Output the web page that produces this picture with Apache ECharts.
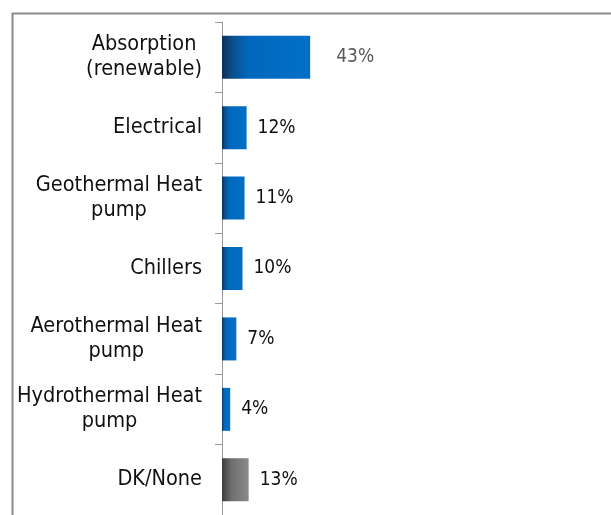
<!DOCTYPE html>
<html>
<head>
<meta charset="utf-8">
<script src="https://cdn.jsdelivr.net/npm/echarts@6/dist/echarts.min.js"></script>
<style>
  html, body { margin: 0; padding: 0; background: #fff; }
  #chart { width: 611px; height: 515px; }
</style>
</head>
<body>
<div id="chart"></div>
<script>
// categories top to bottom
const categories = [
  "Absorption\n(renewable)",
  "Electrical",
  "Geothermal Heat\npump",
  "Chillers",
  "Aerothermal Heat\npump",
  "Hydrothermal Heat\npump",
  "DK/None"
];
const values = [43, 12, 11, 10, 7, 4, 13];

const font = "'DejaVu Sans Condensed', 'DejaVu Sans'";

const blueBar = new echarts.graphic.LinearGradient(0, 0, 1, 0, [
  { offset: 0, color: "#0b2f57" },
  { offset: 0.12, color: "#0a4f8f" },
  { offset: 0.3, color: "#0068bd" },
  { offset: 1, color: "#0070c6" }
]);
const greyBar = new echarts.graphic.LinearGradient(0, 0, 1, 0, [
  { offset: 0, color: "#3c3c3c" },
  { offset: 0.35, color: "#6e6e6e" },
  { offset: 1, color: "#8a8a8a" }
]);

let myEchart = echarts.init(document.getElementById("chart"));
let option = {
  animation: false,
  graphic: [{
    type: "rect",
    left: 10, top: 11,
    shape: { width: 700, height: 600 },
    style: { fill: "none", stroke: "#8c8c8c", lineWidth: 2 }
  }],
  grid: { left: 222, top: 22, width: 205, height: 499 },
  xAxis: { type: "value", min: 0, max: 100, show: false },
  yAxis: {
    type: "category",
    inverse: true,
    data: categories,
    axisLine: { show: true, lineStyle: { color: "#9a9a9a", width: 1 } },
    axisTick: { show: true, length: 7, lineStyle: { color: "#9a9a9a" } },
    axisLabel: {
      margin: 20,
      color: "#111",
      fontFamily: font,
      fontSize: 21.5,
      lineHeight: 25,
      formatter: function(v) {
        return v.split("\n").map(l => "{c|" + l + "}").join("\n");
      },
      rich: { c: { align: "center", fontFamily: font, fontSize: 21.5, lineHeight: 25, color: "#111" } }
    }
  },
  series: [{
    type: "bar",
    barWidth: 43,
    data: values.map((v, i) => {
      let d = { value: v, itemStyle: { color: i === values.length - 1 ? greyBar : blueBar } };
      if (i === 0) d.label = { distance: 26, color: "#595959" };
      return d;
    }),
    label: {
      show: true,
      position: "right",
      distance: 11,
      formatter: "{c}%",
      fontFamily: font,
      fontSize: 19,
      color: "#111"
    }
  }]
};
myEchart.setOption(option);
</script>
</body>
</html>
